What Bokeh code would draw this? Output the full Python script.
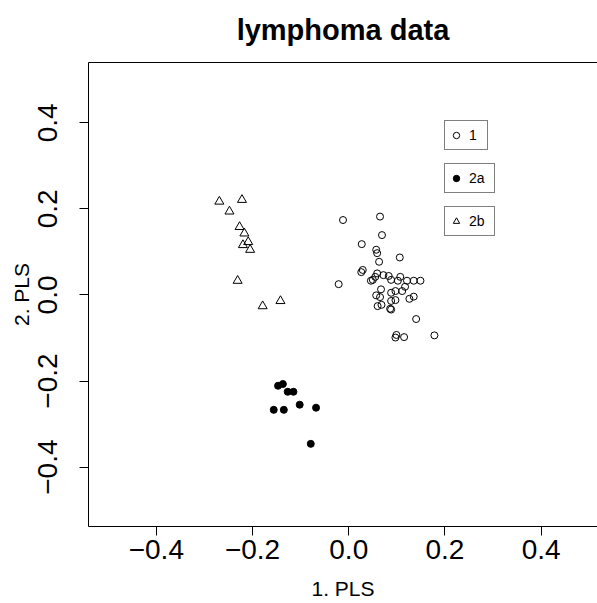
from bokeh.plotting import figure
from bokeh.models import Range1d, FixedTicker, Legend, LegendItem, LinearAxis
from bokeh.embed import file_html
from bokeh.resources import INLINE

# group "1" (open circles)
g1_x = [-0.012, 0.065, 0.069, 0.027, 0.057, 0.059, 0.063, 0.106, 0.029, 0.026,
        -0.021, 0.059, 0.055, 0.050, 0.046, 0.072, 0.083, 0.088, 0.107, 0.102,
        0.121, 0.135, 0.149, 0.117, 0.111, 0.097, 0.088, 0.067, 0.057, 0.065,
        0.097, 0.088, 0.135, 0.126, 0.060, 0.068, 0.086, 0.088, 0.140, 0.099,
        0.097, 0.115, 0.178]
g1_y = [0.174, 0.182, 0.139, 0.118, 0.105, 0.097, 0.077, 0.087, 0.058, 0.053,
        0.025, 0.050, 0.042, 0.035, 0.033, 0.046, 0.044, 0.035, 0.042, 0.033,
        0.033, 0.033, 0.033, 0.019, 0.009, 0.009, 0.005, 0.013, -0.001, -0.005,
        -0.012, -0.014, -0.004, -0.009, -0.026, -0.023, -0.032, -0.034, -0.056, -0.093,
        -0.099, -0.098, -0.094]

# group "2a" (filled circles)
g2a_x = [-0.147, -0.137, -0.127, -0.115, -0.102, -0.068, -0.156, -0.135, -0.079]
g2a_y = [-0.211, -0.207, -0.225, -0.225, -0.255, -0.262, -0.267, -0.267, -0.346]

# group "2b" (triangles)
g2b_x = [-0.269, -0.222, -0.248, -0.227, -0.217, -0.209, -0.220, -0.205, -0.231, -0.179, -0.142]
g2b_y = [0.217, 0.221, 0.194, 0.158, 0.143, 0.123, 0.116, 0.105, 0.033, -0.026, -0.014]

ticks = [-0.4, -0.2, 0.0, 0.2, 0.4]
tick_labels = {-0.4: "\u22120.4", -0.2: "\u22120.2", 0.0: "0.0", 0.2: "0.2", 0.4: "0.4"}

FONT = "Liberation Sans"

p = figure(width=597, height=603, output_backend="svg", toolbar_location=None,
           x_range=Range1d(-0.541, 0.517), y_range=Range1d(-0.538, 0.540),
           min_border_left=88, min_border_right=0, min_border_top=62, min_border_bottom=77)
p.outline_line_color = None
p.grid.visible = False
p.background_fill_color = "white"

p.title.text = "lymphoma data"
p.title.text_font = FONT
p.title.text_font_size = "29px"
p.title.text_font_style = "bold"
p.title.text_color = "black"
p.title.align = "center"
p.title.offset = 5
p.title.standoff = 22

r1 = p.scatter(g1_x, g1_y, marker="circle", size=7, fill_color=None, line_color="black", line_width=1)
r2 = p.scatter(g2a_x, g2a_y, marker="circle", size=7, fill_color="black", line_color="black", line_width=1)
r3 = p.scatter(g2b_x, g2b_y, marker="triangle", size=9, fill_color=None, line_color="black", line_width=1)

for ax in (p.xaxis[0], p.yaxis[0]):
    ax.ticker = FixedTicker(ticks=ticks)
    ax.major_label_overrides = tick_labels
    ax.minor_tick_line_color = None
    ax.major_tick_in = 0
    ax.major_tick_out = 9
    ax.major_tick_line_color = "black"
    ax.major_label_text_font = FONT
    ax.major_label_text_font_size = "28px"
    ax.major_label_text_color = "black"
    ax.axis_label_text_font = FONT
    ax.axis_label_text_font_size = "21px"
    ax.axis_label_text_font_style = "normal"
    ax.axis_label_text_color = "black"
    ax.axis_line_color = "black"

p.xaxis.axis_label = "1. PLS"
p.yaxis.axis_label = "2. PLS"
p.xaxis.major_label_standoff = 4
p.yaxis.major_label_standoff = 22
p.yaxis.major_label_orientation = "vertical"
p.xaxis.axis_label_standoff = 15
p.yaxis.axis_label_standoff = 3

top = LinearAxis(major_label_text_font_size="0px", major_tick_line_color=None,
                 minor_tick_line_color=None, axis_line_color="black")
top.major_label_text_color = None
p.add_layout(top, "above")

labels = ["1", "2a", "2b"]
renderers = [r1, r2, r3]
offsets = [0, 43, 86]
widths = [15, 22, 22]
for lab, rr, off, w in zip(labels, renderers, offsets, widths):
    lg = Legend(items=[LegendItem(label=lab, renderers=[rr])],
                location=(356, 376 - off), orientation="vertical",
                padding=3, margin=0, spacing=0,
                glyph_width=16, glyph_height=16, label_height=22, label_width=w,
                label_standoff=5,
                label_text_font=FONT, label_text_font_size="14px",
                label_text_color="black",
                border_line_color="black", border_line_width=1,
                background_fill_color="white", background_fill_alpha=1.0)
    p.add_layout(lg, "center")

open("out.html", "w").write(file_html(p, INLINE))
